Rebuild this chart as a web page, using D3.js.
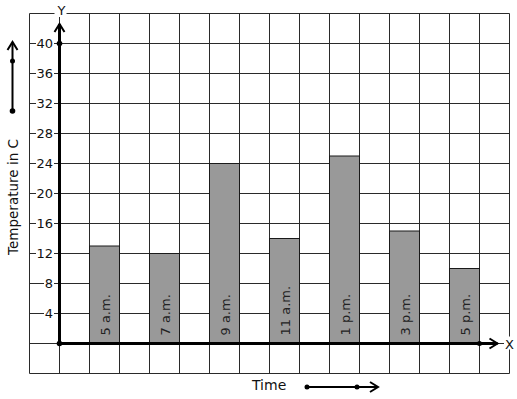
<!DOCTYPE html>
<html lang="en">
<head>
    <meta charset="UTF-8">
    <title>Temperature bar graph</title>
    <style>
        body { margin: 0; background: #fff; }
        svg { display: block; font-family: "DejaVu Sans", sans-serif; }
        .grid line { stroke: #2a2a2a; stroke-width: 1; }
        .bar { fill: #999999; stroke: #1a1a1a; stroke-width: 1; }
        .axis-line { stroke: #000; stroke-width: 3; fill: none; }
        .arrow { stroke: #000; stroke-width: 2; fill: none; }
        .dot { fill: #000; }
    </style>
</head>
<body>
    <svg id="chart" width="517" height="399"></svg>

    <script src="https://d3js.org/d3.v7.min.js"></script>
    <script>
        // Data
        const times = ["5 a.m.", "7 a.m.", "9 a.m.", "11 a.m.", "1 p.m.", "3 p.m.", "5 p.m."];
        const temps = [13, 12, 24, 14, 25, 15, 10];
        const yTicks = [4, 8, 12, 16, 20, 24, 28, 32, 36, 40];

        const svg = d3.select("#chart");

        // Graph paper: 16 columns, 12 rows, origin one square in from left and bottom
        const col = d3.scaleLinear().domain([0, 16]).range([29.5, 509.5]);
        const y = d3.scaleLinear().domain([-4, 44]).range([373.5, 13.5]);

        const grid = svg.append("g").attr("class", "grid");
        grid.selectAll("line.v")
            .data(d3.range(0, 17))
            .join("line")
            .attr("class", "v")
            .attr("x1", d => col(d)).attr("x2", d => col(d))
            .attr("y1", y(44)).attr("y2", y(-4));
        grid.selectAll("line.h")
            .data(d3.range(-4, 45, 4))
            .join("line")
            .attr("class", "h")
            .attr("x1", col(0)).attr("x2", col(16))
            .attr("y1", d => y(d)).attr("y2", d => y(d));

        // Bars: one every second column starting at column 2
        const barX = i => col(2 + 2 * i);
        const barW = col(1) - col(0);

        svg.selectAll("rect.bar")
            .data(temps)
            .join("rect")
            .attr("class", "bar")
            .attr("x", (d, i) => barX(i))
            .attr("y", d => y(d))
            .attr("width", barW)
            .attr("height", d => y(0) - y(d));

        svg.selectAll("text.bar-label")
            .data(times)
            .join("text")
            .attr("class", "bar-label")
            .attr("transform", (d, i) => `translate(${barX(i) + barW / 2 + 5},${y(0) - 8}) rotate(-90)`)
            .attr("font-size", 13)
            .attr("fill", "#222")
            .text(d => d);

        // Y tick labels with white background over the grid lines
        const tickG = svg.append("g");
        const tickLabels = tickG.selectAll("g")
            .data(yTicks)
            .join("g")
            .attr("transform", d => `translate(53,${y(d)})`);
        tickLabels.append("rect")
            .attr("x", d => d >= 10 ? -17 : -9)
            .attr("y", -7)
            .attr("width", d => d >= 10 ? 18 : 10)
            .attr("height", 13)
            .attr("fill", "#fff");
        tickLabels.append("text")
            .attr("text-anchor", "end")
            .attr("dy", "0.36em")
            .attr("font-size", 13)
            .attr("fill", "#111")
            .text(d => d);

        // Axes
        const x0 = col(1), y0 = y(0);
        svg.append("line").attr("class", "axis-line")
            .attr("x1", x0).attr("y1", y0).attr("x2", x0).attr("y2", y(42.6));
        svg.append("line").attr("class", "axis-line")
            .attr("x1", x0).attr("y1", y0).attr("x2", col(15.6)).attr("y2", y0);

        // arrow heads
        const chevron = (tx, ty, dir, s) => {
            // dir: "up" or "right"
            if (dir === "up") return `M${tx - s},${ty + s * 1.6}L${tx},${ty}L${tx + s},${ty + s * 1.6}`;
            return `M${tx - s * 1.6},${ty - s}L${tx},${ty}L${tx - s * 1.6},${ty + s}`;
        };
        svg.append("path").attr("class", "arrow").attr("stroke-width", 2.5)
            .attr("d", chevron(x0, y(42.6), "up", 5));
        svg.append("path").attr("class", "arrow").attr("stroke-width", 2.5)
            .attr("d", chevron(col(15.6), y0, "right", 5));

        svg.append("circle").attr("class", "dot").attr("cx", x0).attr("cy", y0).attr("r", 2.8);
        svg.append("circle").attr("class", "dot").attr("cx", x0).attr("cy", y(40)).attr("r", 2.8);
        svg.append("circle").attr("class", "dot").attr("cx", col(15)).attr("cy", y0).attr("r", 2.5);

        // Axis letters
        svg.append("rect").attr("x", x0 - 5).attr("y", 3).attr("width", 12).attr("height", 14).attr("fill", "#fff");
        svg.append("text").attr("x", x0 + 2).attr("y", 15).attr("text-anchor", "middle")
            .attr("font-size", 13).attr("fill", "#111").text("Y");
        svg.append("rect").attr("x", col(15.85) - 1).attr("y", y0 - 7).attr("width", 10).attr("height", 13).attr("fill", "#fff");
        svg.append("text").attr("x", col(15.85)).attr("y", y0 + 5)
            .attr("font-size", 13).attr("fill", "#111").text("X");

        // Axis titles
        svg.append("text")
            .attr("transform", "translate(18,197) rotate(-90)")
            .attr("text-anchor", "middle")
            .attr("font-size", 13.5)
            .attr("fill", "#111")
            .text("Temperature in C");

        svg.append("text")
            .attr("x", 252).attr("y", 390)
            .attr("font-size", 14)
            .attr("fill", "#111")
            .text("Time");

        // Decorative direction arrows
        svg.append("line").attr("class", "arrow").attr("stroke-width", 2.5)
            .attr("x1", 12.5).attr("y1", 111).attr("x2", 12.5).attr("y2", 43);
        svg.append("path").attr("class", "arrow").attr("stroke-width", 2.5)
            .attr("d", chevron(12.5, 42, "up", 5));
        svg.append("circle").attr("class", "dot").attr("cx", 12.5).attr("cy", 61).attr("r", 2.5);
        svg.append("circle").attr("class", "dot").attr("cx", 12.5).attr("cy", 111).attr("r", 2.8);

        svg.append("line").attr("class", "arrow").attr("stroke-width", 2)
            .attr("x1", 307).attr("y1", 387).attr("x2", 377).attr("y2", 387);
        svg.append("path").attr("class", "arrow").attr("stroke-width", 2)
            .attr("d", chevron(378, 387, "right", 5));
        svg.append("circle").attr("class", "dot").attr("cx", 307).attr("cy", 387).attr("r", 2.5);
        svg.append("circle").attr("class", "dot").attr("cx", 357).attr("cy", 387).attr("r", 2.5);
    </script>
</body>
</html>
